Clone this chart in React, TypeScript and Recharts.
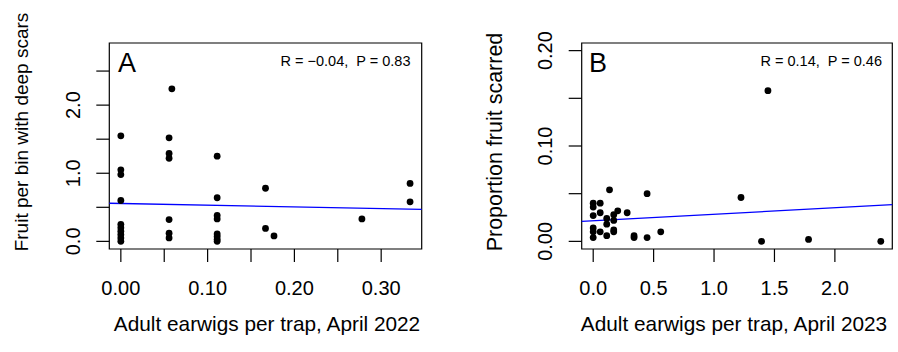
import React from "react";
import { ReferenceArea, ReferenceLine, Scatter, ScatterChart, XAxis, YAxis } from "recharts";

// Panel A: fruit per bin with deep scars vs adult earwigs, April 2022
const xA = [
  0, 0, 0, 0, 0, 0, 0, 0, 0, 0,
  0.0556, 0.0556, 0.0556, 0.0556, 0.0556, 0.0556, 0.0588,
  0.111, 0.111, 0.111, 0.111, 0.111, 0.111, 0.111, 0.111,
  0.1667, 0.1667, 0.1765, 0.2778, 0.3333, 0.3333,
];
const yA = [
  1.55, 1.05, 0.98, 0.6, 0.25, 0.2, 0.15, 0.1, 0.05, 0,
  1.52, 1.29, 1.22, 0.32, 0.12, 0.05, 2.24,
  1.25, 0.64, 0.38, 0.33, 0.11, 0.07, 0.03, 0,
  0.78, 0.19, 0.08, 0.33, 0.85, 0.58,
];
const fitA = { intercept: 0.556, slope: -0.247 };
const xTicksA = [0, 0.05, 0.1, 0.15, 0.2, 0.25, 0.3];
const xLabelsA = [0, 0.1, 0.2, 0.3];
const yTicksA = [0, 0.5, 1, 1.5, 2, 2.5];
const yLabelsA = [0, 1, 2];

// Panel B: proportion fruit scarred vs adult earwigs, April 2023
const xB = [
  0, 0, 0, 0, 0, 0,
  0.058, 0.058, 0.058,
  0.112, 0.112, 0.112, 0.135,
  0.17, 0.17, 0.17, 0.17, 0.203, 0.281,
  0.338, 0.338, 0.446, 0.446, 0.559,
  1.223, 1.393, 1.446, 1.782, 2.38,
];
const yB = [
  0.04, 0.036, 0.027, 0.014, 0.01, 0.004,
  0.04, 0.03, 0.01,
  0.024, 0.018, 0.006, 0.054,
  0.028, 0.022, 0.012, 0.01, 0.032, 0.03,
  0.006, 0.004, 0.05, 0.004, 0.01,
  0.046, 0, 0.158, 0.002, 0,
];
const fitB = { intercept: 0.0216, slope: 0.0068 };
const xTicksB = [0, 0.5, 1, 1.5, 2];
const xLabelsB = [0, 0.5, 1, 1.5, 2];
const yTicksB = [0, 0.05, 0.1, 0.15, 0.2];
const yLabelsB = [0, 0.1, 0.2];

const FONT = "'Liberation Sans', Arial, Helvetica, sans-serif";
const TICK_FONT = 20;

const has = (list: number[], v: number) => list.some((l) => Math.abs(l - v) < 1e-9);

type PanelProps = {
  xs: number[];
  ys: number[];
  fit: { intercept: number; slope: number };
  xDomain: [number, number];
  yDomain: [number, number];
  xTicks: number[];
  xLabels: number[];
  yTicks: number[];
  yLabels: number[];
  xDigits: number;
  yDigits: number;
  yAxisWidth: number;
  rightMargin: number;
};

function Panel(p: PanelProps) {
  const data = p.xs.map((x, i) => ({ x, y: p.ys[i] }));
  const [x0, x1] = p.xDomain;
  const [y0, y1] = p.yDomain;

  const XTick = (props: any) => {
    const v = props.payload.value;
    if (!has(p.xLabels, v)) return <g />;
    return (
      <text x={props.x} y={props.y + 24} textAnchor="middle" dominantBaseline="central" fontSize={TICK_FONT} fontFamily={FONT} fill="#000">
        {v.toFixed(p.xDigits)}
      </text>
    );
  };

  const YTick = (props: any) => {
    const v = props.payload.value;
    if (!has(p.yLabels, v)) return <g />;
    const cx = props.x - 21.5;
    return (
      <text x={cx} y={props.y} textAnchor="middle" dominantBaseline="central" transform={`rotate(-90 ${cx} ${props.y})`} fontSize={TICK_FONT} fontFamily={FONT} fill="#000">
        {v.toFixed(p.yDigits)}
      </text>
    );
  };

  return (
    <ScatterChart width={449} height={352} margin={{ top: 43, right: p.rightMargin, bottom: 0, left: 0 }}>
      <XAxis
        type="number"
        dataKey="x"
        domain={p.xDomain}
        ticks={p.xTicks}
        allowDataOverflow
        axisLine={false}
        tickSize={13}
        tickLine={{ stroke: "#000", strokeWidth: 1.2 }}
        tick={<XTick />}
        height={103}
      />
      <YAxis
        type="number"
        dataKey="y"
        domain={p.yDomain}
        ticks={p.yTicks}
        allowDataOverflow
        axisLine={false}
        tickSize={13}
        tickLine={{ stroke: "#000", strokeWidth: 1.2 }}
        tick={<YTick />}
        width={p.yAxisWidth}
      />
      <ReferenceArea x1={x0} x2={x1} y1={y0} y2={y1} fill="none" stroke="#000" strokeWidth={1.2} fillOpacity={0} ifOverflow="visible" />
      <ReferenceLine
        segment={[
          { x: x0, y: p.fit.intercept + p.fit.slope * x0 },
          { x: x1, y: p.fit.intercept + p.fit.slope * x1 },
        ]}
        stroke="#0000ff"
        strokeWidth={1.3}
        ifOverflow="visible"
      />
      <Scatter
        data={data}
        isAnimationActive={false}
        shape={(s: any) => <circle cx={s.cx} cy={s.cy} r={3.4} fill="#000" />}
      />
    </ScatterChart>
  );
}

export default function App() {
  return (
    <div style={{ position: "absolute", left: 0, top: 0, width: 898, height: 352, background: "#fff" }}>
      <div style={{ position: "absolute", left: 0, top: 0 }}>
        <Panel
          xs={xA}
          ys={yA}
          fit={fitA}
          xDomain={[-0.0133, 0.3467]}
          yDomain={[-0.112, 2.912]}
          xTicks={xTicksA}
          xLabels={xLabelsA}
          yTicks={yTicksA}
          yLabels={yLabelsA}
          xDigits={2}
          yDigits={1}
          yAxisWidth={109.3}
          rightMargin={27.3}
        />
      </div>
      <div style={{ position: "absolute", left: 449, top: 0 }}>
        <Panel
          xs={xB}
          ys={yB}
          fit={fitB}
          xDomain={[-0.0952, 2.4752]}
          yDomain={[-0.008, 0.208]}
          xTicks={xTicksB}
          xLabels={xLabelsB}
          yTicks={yTicksB}
          yLabels={yLabelsB}
          xDigits={1}
          yDigits={2}
          yAxisWidth={132.7}
          rightMargin={5.7}
        />
      </div>
      <svg width={898} height={352} style={{ position: "absolute", left: 0, top: 0, pointerEvents: "none", whiteSpace: "pre" }} fontFamily={FONT}>
        <text x={21} y={132} textAnchor="middle" dominantBaseline="central" transform="rotate(-90 21 132)" fontSize={19}>
          Fruit per bin with deep scars
        </text>
        <text x={495} y={142} textAnchor="middle" dominantBaseline="central" transform="rotate(-90 495 142)" fontSize={21.5}>
          Proportion fruit scarred
        </text>
        <text x={267} y={323} textAnchor="middle" dominantBaseline="central" fontSize={20.8}>
          Adult earwigs per trap, April 2022
        </text>
        <text x={734} y={323} textAnchor="middle" dominantBaseline="central" fontSize={20.8}>
          Adult earwigs per trap, April 2023
        </text>
        <text x={118} y={72} fontSize={27}>A</text>
        <text x={589} y={72} fontSize={27}>B</text>
        <text x={410.5} y={66} textAnchor="end" fontSize={14.5} xmlSpace="preserve">{"R = \u22120.04,  P = 0.83"}</text>
        <text x={882} y={66} textAnchor="end" fontSize={14.5} xmlSpace="preserve">{"R = 0.14,  P = 0.46"}</text>
      </svg>
    </div>
  );
}
